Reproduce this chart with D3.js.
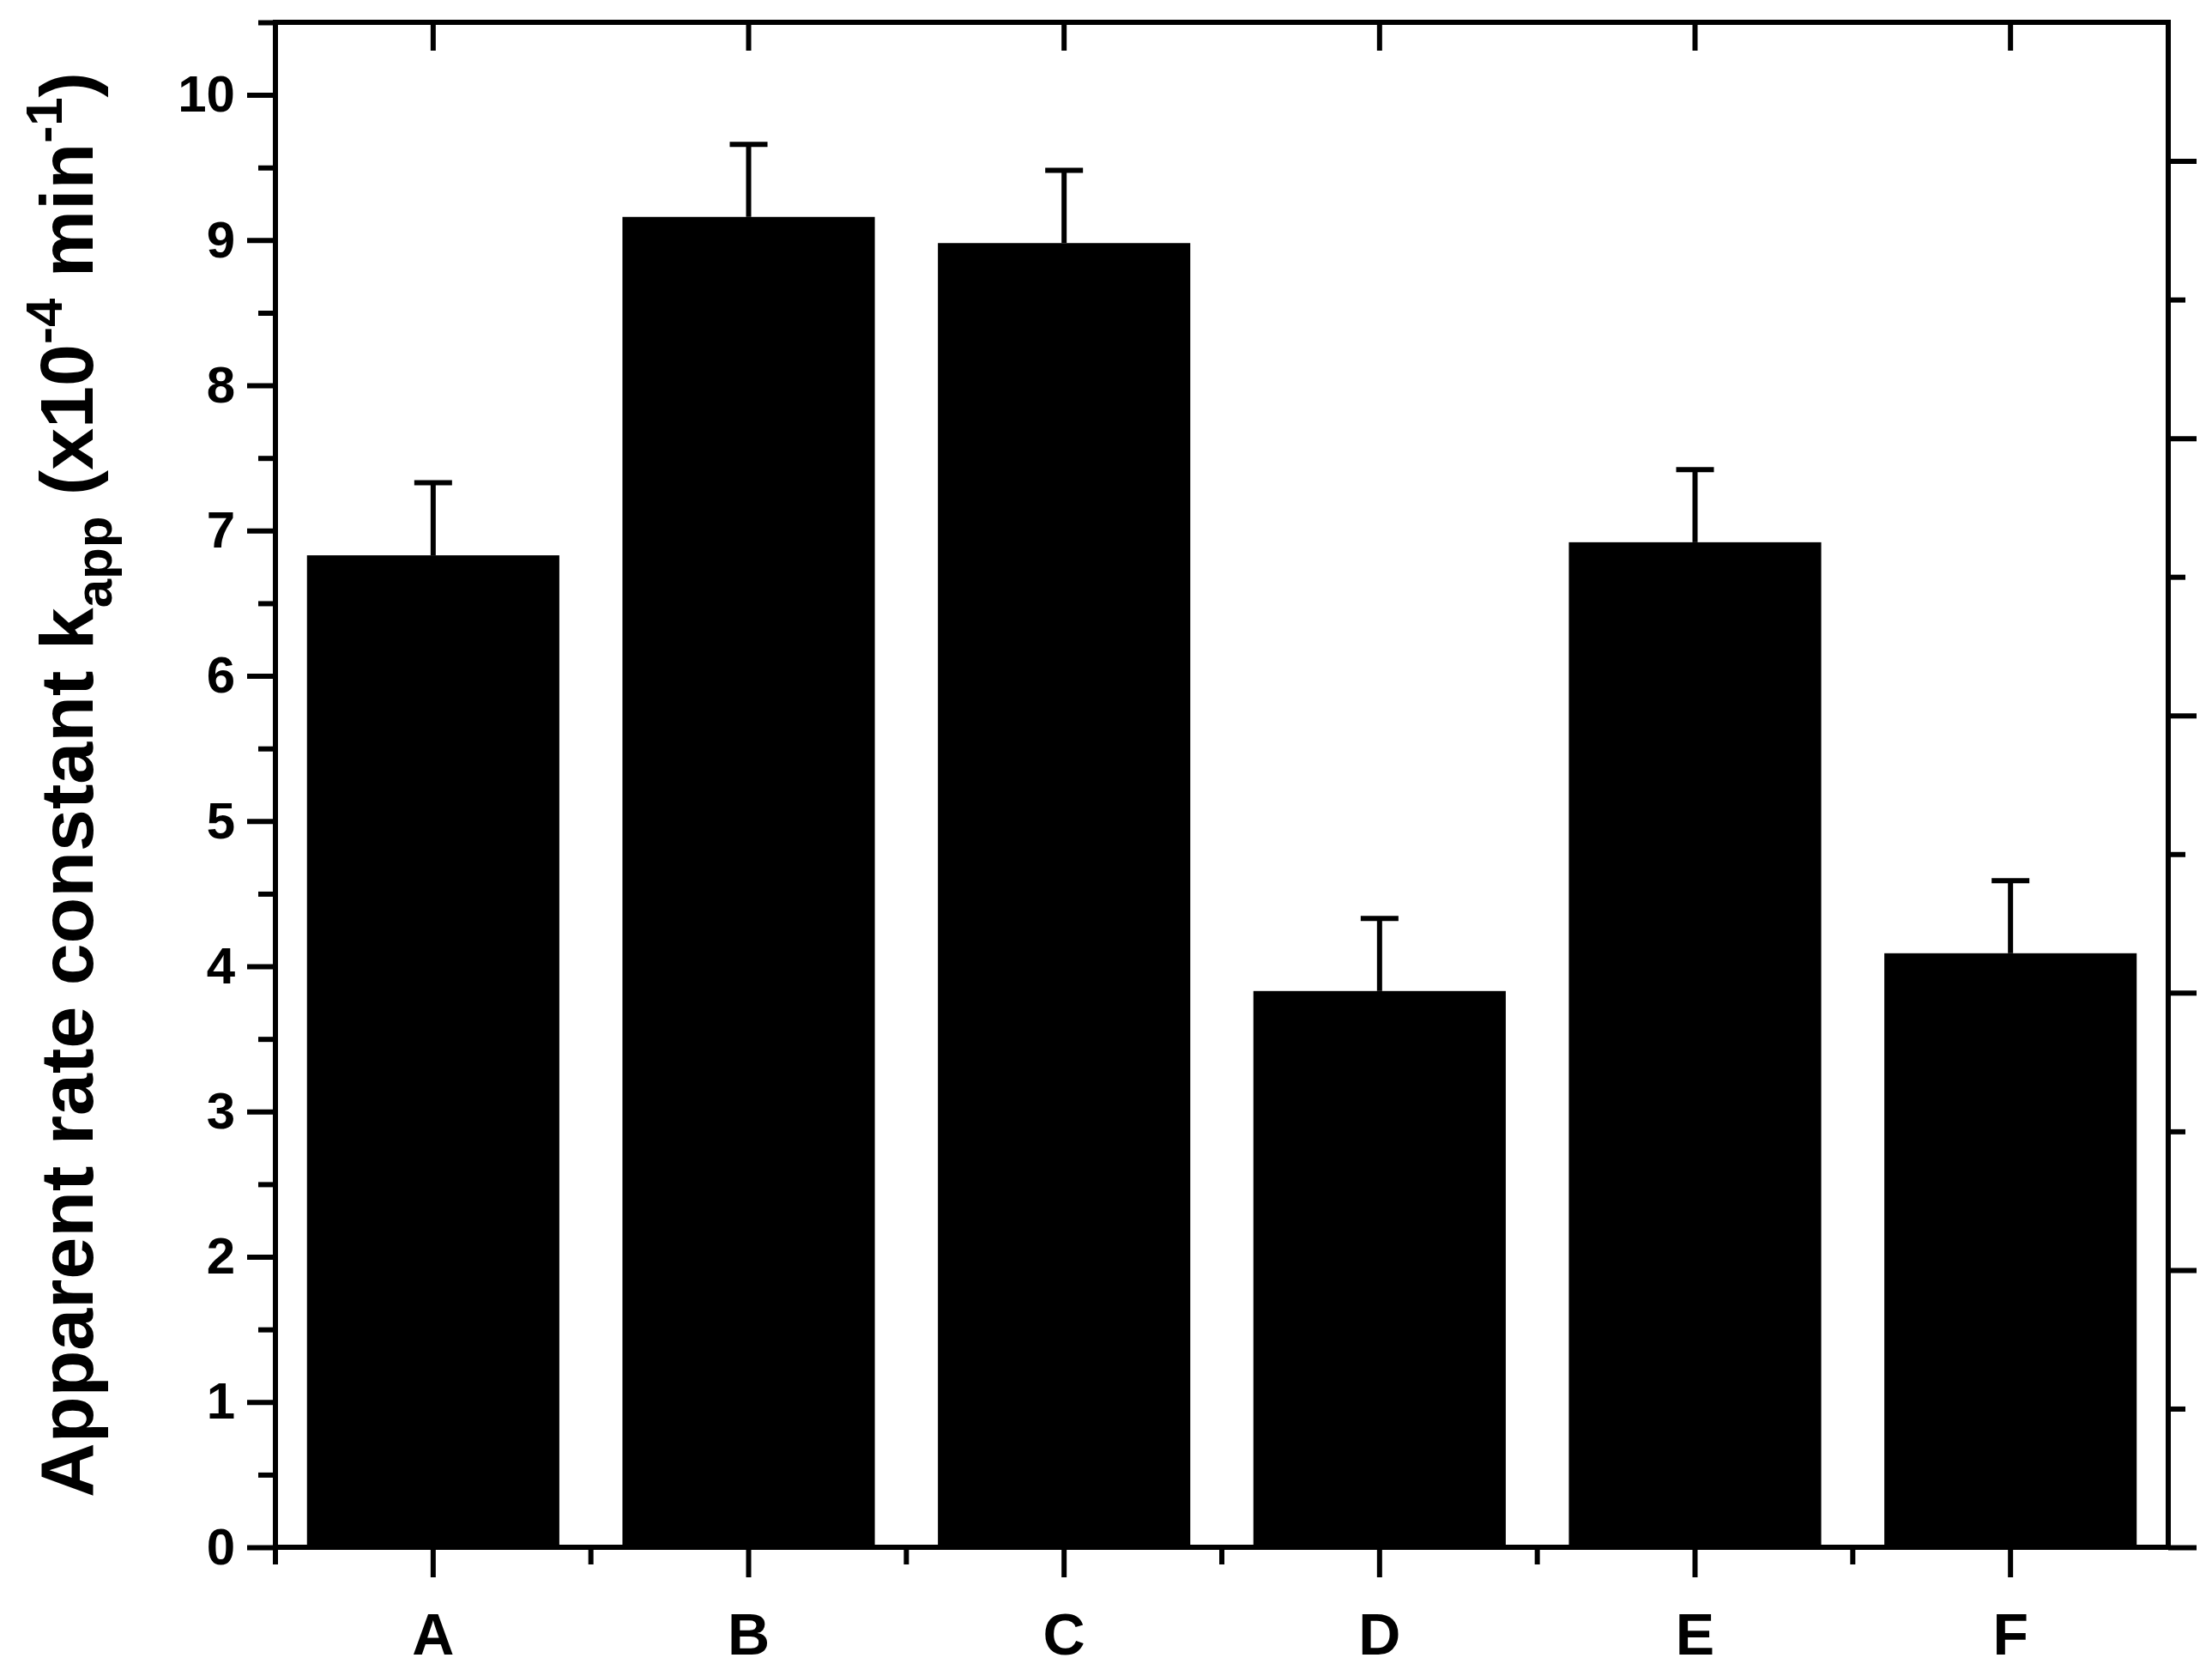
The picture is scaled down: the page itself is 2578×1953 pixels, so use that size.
<!DOCTYPE html>
<html><head><meta charset="utf-8">
<script src="https://cdn.jsdelivr.net/npm/d3@7"></script>
<style>body{margin:0;background:#fff}svg{display:block}text{font-family:"Liberation Sans",Arial,sans-serif;font-weight:bold}</style>
</head><body>
<script>
const categories = ["A","B","C","D","E","F"];
const values = [6.83, 9.16, 8.98, 3.83, 6.92, 4.09];
const errors = [0.5, 0.5, 0.5, 0.5, 0.5, 0.5];
const yTicks = [0,1,2,3,4,5,6,7,8,9,10];

const W = 2578, H = 1953;
const L = 321, R = 2527, T = 26, B = 1803;
const svg = d3.select("body").append("svg").attr("width", W).attr("height", H);

const x = d3.scaleBand().domain(categories).range([L, R]).paddingInner(0.2).paddingOuter(0.1);
const y = d3.scaleLinear().domain([0, 10.5]).range([B, T]);
const yR = d3.scaleLinear().domain([0, 11]).range([B, T]);

// bars
svg.selectAll("rect.bar").data(categories).enter().append("rect")
  .attr("x", d => x(d)).attr("width", x.bandwidth())
  .attr("y", (d,i) => y(values[i])).attr("height", (d,i) => B - y(values[i]))
  .attr("fill", "#000");

// error bars
const eb = svg.append("g").attr("stroke", "#000").attr("stroke-width", 6);
categories.forEach((c, i) => {
  const cx = x(c) + x.bandwidth()/2;
  eb.append("line").attr("x1", cx).attr("x2", cx).attr("y1", y(values[i])).attr("y2", y(values[i] + errors[i]));
  eb.append("line").attr("x1", cx - 22).attr("x2", cx + 22).attr("y1", y(values[i] + errors[i])).attr("y2", y(values[i] + errors[i]));
});

function style(g){ g.selectAll("line,path").attr("stroke","#000").attr("stroke-width",6); g.select(".domain").remove(); }

// left axis major + minor
const gl = svg.append("g").attr("transform", `translate(${L},0)`)
  .call(d3.axisLeft(y).tickValues(yTicks).tickSize(33).tickPadding(14).tickFormat(d3.format("d")));
style(gl);
gl.selectAll("text").attr("font-size", 60).attr("fill", "#000");
const glm = svg.append("g").attr("transform", `translate(${L},0)`)
  .call(d3.axisLeft(y).tickValues(yTicks.map(v => v + 0.5)).tickSize(20).tickFormat(""));
style(glm);

// right axis
const gr = svg.append("g").attr("transform", `translate(${R},0)`)
  .call(d3.axisRight(yR).tickValues([0,2,4,6,8,10]).tickSize(33).tickFormat(""));
style(gr);
const grm = svg.append("g").attr("transform", `translate(${R},0)`)
  .call(d3.axisRight(yR).tickValues([1,3,5,7,9]).tickSize(20).tickFormat(""));
style(grm);

// bottom axis
const gb = svg.append("g").attr("transform", `translate(0,${B})`)
  .call(d3.axisBottom(x).tickSize(35).tickPadding(42));
style(gb);
gb.selectAll("text").attr("font-size", 68).attr("fill", "#000");
const bounds = [L].concat(categories.slice(1).map(c => x(c) - x.step()*x.paddingInner()/2));
const gbm = svg.append("g").attr("stroke","#000").attr("stroke-width",6);
bounds.forEach(bx => gbm.append("line").attr("x1",bx).attr("x2",bx).attr("y1",B).attr("y2",B+20));

// top axis inward ticks
const gt = svg.append("g").attr("transform", `translate(0,${T})`)
  .call(d3.axisBottom(x).tickSize(33).tickFormat(""));
style(gt);

// frame
svg.append("rect").attr("x", L).attr("y", T).attr("width", R - L).attr("height", B - T)
  .attr("fill", "none").attr("stroke", "#000").attr("stroke-width", 6);

// y title
const title = svg.append("text").attr("transform", `translate(108,${(T+B)/2}) rotate(-90)`)
  .attr("text-anchor", "middle").attr("font-size", 88).attr("fill", "#000");
title.append("tspan").text("Apparent rate constant k");
title.append("tspan").attr("font-size", 60).attr("dy", 22).text("app");
title.append("tspan").attr("dy", -22).text(" (x10");
title.append("tspan").attr("font-size", 60).attr("dy", -36).text("-4");
title.append("tspan").attr("dy", 36).text(" min");
title.append("tspan").attr("font-size", 60).attr("dy", -36).text("-1");
title.append("tspan").attr("dy", 36).text(")");
</script>
</body></html>
